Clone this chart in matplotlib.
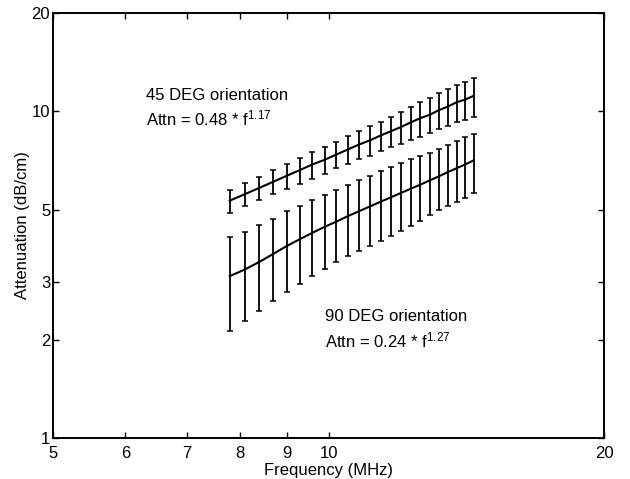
import numpy as np
import matplotlib
matplotlib.use("Agg")
import matplotlib.pyplot as plt
from matplotlib.ticker import FixedLocator, FixedFormatter, NullLocator

plt.rcParams['font.family'] = ['Liberation Sans', 'DejaVu Sans']
plt.rcParams['mathtext.fontset'] = 'custom'
plt.rcParams['mathtext.rm'] = 'Liberation Sans'
plt.rcParams['mathtext.it'] = 'Liberation Sans'

# frequency (MHz)
freq = [7.8, 8.1, 8.4, 8.7, 9.0, 9.3, 9.6, 9.9, 10.2, 10.5, 10.8, 11.1,
        11.4, 11.7, 12.0, 12.3, 12.6, 12.9, 13.2, 13.5, 13.8, 14.1, 14.4]

# 45 DEG orientation: mean attenuation (dB/cm) and error half width
att45 = [5.33, 5.58, 5.83, 6.09, 6.35, 6.61, 6.88, 7.11, 7.38, 7.65, 7.92, 8.16,
         8.44, 8.70, 8.96, 9.26, 9.54, 9.77, 10.09, 10.35, 10.67, 10.87, 11.16]
err45 = [0.43, 0.45, 0.48, 0.52, 0.56, 0.60, 0.65, 0.68, 0.69, 0.75, 0.79, 0.86,
         0.86, 0.94, 1.02, 1.09, 1.18, 1.20, 1.28, 1.33, 1.37, 1.46, 1.53]

# 90 DEG orientation
att90 = [3.13, 3.28, 3.46, 3.66, 3.87, 4.06, 4.25, 4.43, 4.60, 4.78, 4.95, 5.12,
         5.29, 5.46, 5.63, 5.80, 5.97, 6.15, 6.33, 6.52, 6.70, 6.88, 7.08]
err90 = [1.00, 1.00, 1.02, 1.03, 1.07, 1.09, 1.11, 1.13, 1.15, 1.17, 1.20, 1.24,
         1.29, 1.30, 1.33, 1.34, 1.35, 1.32, 1.33, 1.40, 1.42, 1.45, 1.46]

xticks = [5, 6, 7, 8, 9, 10, 20]
yticks = [1, 2, 3, 5, 10, 20]

fig = plt.figure(figsize=(6.3, 4.79), dpi=100)
ax = fig.add_axes([0.084, 0.0856, 0.875, 0.887])

for a, e in [(att45, err45), (att90, err90)]:
    ax.errorbar(freq, a, yerr=e, color='black', lw=1.5, elinewidth=1.3,
                capsize=2.3, capthick=1.1)

ax.set_xscale('log')
ax.set_yscale('log')
ax.set_xlim(5, 20)
ax.set_ylim(1, 20)

ax.xaxis.set_major_locator(FixedLocator(xticks))
ax.xaxis.set_major_formatter(FixedFormatter([str(t) for t in xticks]))
ax.xaxis.set_minor_locator(NullLocator())
ax.yaxis.set_major_locator(FixedLocator(yticks))
ax.yaxis.set_major_formatter(FixedFormatter([str(t) for t in yticks]))
ax.yaxis.set_minor_locator(NullLocator())

ax.tick_params(which='both', direction='in', top=True, right=True,
               length=4, width=1.0, labelsize=12)
ax.tick_params(axis='x', pad=6)
ax.tick_params(axis='y', pad=2)
for s in ax.spines.values():
    s.set_linewidth(1.4)

ax.set_xlabel('Frequency (MHz)', fontsize=12, labelpad=1)
ax.set_ylabel('Attenuation (dB/cm)', fontsize=12, labelpad=1)

ax.text(6.32, 11.2, '45 DEG orientation', fontsize=12, va='center')
ax.text(6.32, 9.5, r'Attn = 0.48 * f$^{1.17}$', fontsize=12, va='center')
ax.text(9.91, 2.35, '90 DEG orientation', fontsize=12, va='center')
ax.text(9.91, 1.99, r'Attn = 0.24 * f$^{1.27}$', fontsize=12, va='center')

fig.savefig('out.png', dpi=100)
